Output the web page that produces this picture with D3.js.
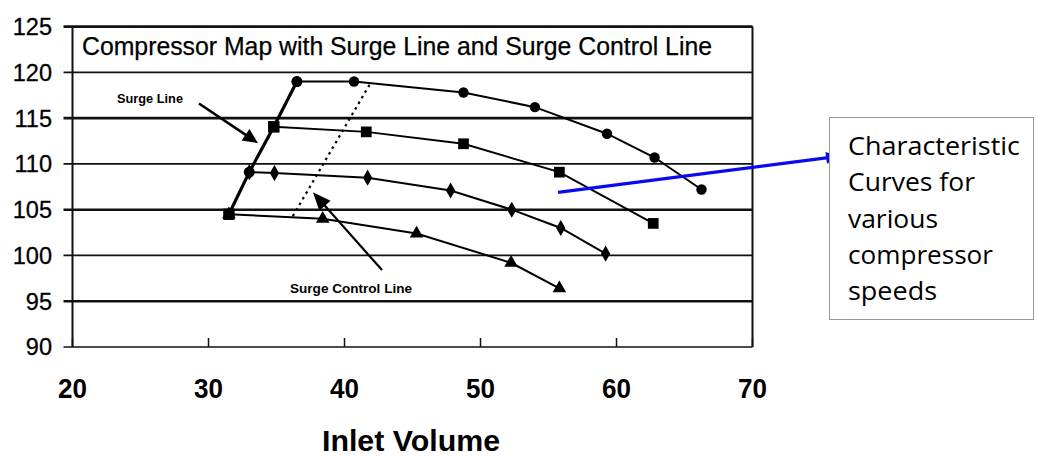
<!DOCTYPE html>
<html>
<head>
<meta charset="utf-8">
<script src="https://cdn.jsdelivr.net/npm/d3@7"></script>
<style>
  body { margin: 0; background: #fff; }
  svg { display: block; }
</style>
</head>
<body>
<svg id="chart"></svg>
<script>
// axis ticks
const xTicks = [20, 30, 40, 50, 60, 70];
const yTicks = [90, 95, 100, 105, 110, 115, 120, 125];

// characteristic curves, one per compressor speed (inlet volume, pressure)
const speed1X = [36.5, 40.7, 48.75, 54.0, 59.3, 62.8, 66.25];
const speed1Y = [119.0, 119.0, 117.8, 116.2, 113.3, 110.7, 107.2];
const speed2X = [34.8, 41.6, 48.75, 55.8, 62.7];
const speed2Y = [114.05, 113.5, 112.2, 109.1, 103.5];
const speed3X = [33.0, 34.85, 41.7, 47.8, 52.3, 55.9, 59.2];
const speed3Y = [109.1, 109.0, 108.5, 107.1, 105.0, 103.0, 100.2];
const speed4X = [31.5, 38.4, 45.3, 52.25, 55.8];
const speed4Y = [104.5, 104.0, 102.4, 99.2, 96.4];

// surge line joins the first point of every curve, control line sits to its right
const surgeX = [31.5, 33.0, 34.8, 36.5];
const surgeY = [104.5, 109.1, 114.05, 119.0];
const surgeControlX = [36.2, 41.9];
const surgeControlY = [104.3, 118.8];

// annotation arrows, in chart units: [from, to]
const surgeArrow = [[29.3, 116.6], [33.64, 112.27]];
const controlArrow = [[42.76, 98.4], [37.68, 106.9]];
const blueArrow = [[55.7, 106.9], [76.44, 110.85]];

const width = 1038;
const height = 457;
const svg = d3.select('#chart').attr('width', width).attr('height', height);

const x = d3.scaleLinear().domain([20, 70]).range([72.5, 752.5]);
const y = d3.scaleLinear().domain([90, 125]).range([347, 26.6]);

const zip = (xs, ys) => xs.map((v, i) => [v, ys[i]]);
const line = d3.line().x(d => x(d[0])).y(d => y(d[1]));

// horizontal grid lines (these also act as y ticks, sticking out left of the axis)
svg.append('g')
  .selectAll('line')
  .data(yTicks)
  .enter()
  .append('line')
  .attr('x1', x(20) - 9)
  .attr('x2', x(70))
  .attr('y1', d => y(d))
  .attr('y2', d => y(d))
  .attr('stroke', '#111')
  .attr('stroke-width', d => (d % 10 === 5 ? 2.6 : 1.7));

// y labels
svg.append('g')
  .selectAll('text')
  .data(yTicks)
  .enter()
  .append('text')
  .attr('x', 52)
  .attr('y', d => y(d) + 8.4)
  .attr('text-anchor', 'end')
  .attr('font-family', 'Liberation Sans, Arial, sans-serif')
  .attr('font-size', 23.5)
  .attr('stroke', '#000')
  .attr('stroke-width', 0.3)
  .text(d => d);

// frame
svg.append('line')
  .attr('x1', x(20)).attr('x2', x(20))
  .attr('y1', y(125)).attr('y2', y(90))
  .attr('stroke', '#111').attr('stroke-width', 2);
svg.append('line')
  .attr('x1', x(70)).attr('x2', x(70))
  .attr('y1', y(125)).attr('y2', y(90))
  .attr('stroke', '#111').attr('stroke-width', 2);

// x ticks point up into the plot
svg.append('g')
  .selectAll('line')
  .data(xTicks)
  .enter()
  .append('line')
  .attr('x1', d => x(d))
  .attr('x2', d => x(d))
  .attr('y1', y(90))
  .attr('y2', y(90) - 9)
  .attr('stroke', '#111')
  .attr('stroke-width', 1.5);

svg.append('g')
  .selectAll('text')
  .data(xTicks)
  .enter()
  .append('text')
  .attr('x', d => x(d))
  .attr('y', 398)
  .attr('text-anchor', 'middle')
  .attr('font-family', 'Liberation Sans, Arial, sans-serif')
  .attr('font-weight', 'bold')
  .attr('font-size', 28)
  .attr('textLength', 29)
  .attr('lengthAdjust', 'spacingAndGlyphs')
  .text(d => d);

svg.append('text')
  .attr('x', 411)
  .attr('y', 451)
  .attr('text-anchor', 'middle')
  .attr('font-family', 'Liberation Sans, Arial, sans-serif')
  .attr('font-weight', 'bold')
  .attr('font-size', 29)
  .attr('textLength', 178)
  .attr('lengthAdjust', 'spacingAndGlyphs')
  .text('Inlet Volume');

svg.append('text')
  .attr('x', 82)
  .attr('y', 55)
  .attr('font-family', 'Liberation Sans, Arial, sans-serif')
  .attr('font-size', 25)
  .attr('stroke', '#000')
  .attr('stroke-width', 0.25)
  .attr('textLength', 630)
  .attr('lengthAdjust', 'spacingAndGlyphs')
  .text('Compressor Map with Surge Line and Surge Control Line');

// the curves
const curves = [
  { pts: zip(speed1X, speed1Y), sym: d3.symbolCircle, size: 85 },
  { pts: zip(speed2X, speed2Y), sym: d3.symbolSquare, size: 115 },
  { pts: zip(speed3X, speed3Y), sym: d3.symbolDiamond, size: 75 },
  { pts: zip(speed4X, speed4Y), sym: d3.symbolTriangle, size: 80 },
];

curves.forEach(c => {
  svg.append('path')
    .attr('d', line(c.pts))
    .attr('fill', 'none')
    .attr('stroke', '#000')
    .attr('stroke-width', 2);
});

svg.append('path')
  .attr('d', line(zip(surgeX, surgeY)))
  .attr('fill', 'none')
  .attr('stroke', '#000')
  .attr('stroke-width', 3.2);

svg.append('path')
  .attr('d', line(zip(surgeControlX, surgeControlY)))
  .attr('fill', 'none')
  .attr('stroke', '#000')
  .attr('stroke-width', 2.2)
  .attr('stroke-dasharray', '2.5,4');

curves.forEach(c => {
  svg.append('g')
    .selectAll('path')
    .data(c.pts)
    .enter()
    .append('path')
    .attr('transform', d => `translate(${x(d[0])},${y(d[1])})`)
    .attr('d', d3.symbol().type(c.sym).size(c.size));
});

// surge line points alternate square / circle
const surgeSyms = [d3.symbolSquare, d3.symbolCircle, d3.symbolSquare, d3.symbolCircle];
svg.append('g')
  .selectAll('path')
  .data(zip(surgeX, surgeY))
  .enter()
  .append('path')
  .attr('transform', d => `translate(${x(d[0])},${y(d[1])})`)
  .attr('d', (d, i) => d3.symbol().type(surgeSyms[i]).size(i % 2 ? 95 : 130)());

// arrows with a filled head at the end
const arrow = (pts, color, w, headLen, headW) => {
  const x1 = x(pts[0][0]), y1 = y(pts[0][1]);
  const x2 = x(pts[1][0]), y2 = y(pts[1][1]);
  const len = Math.hypot(x2 - x1, y2 - y1);
  const ux = (x2 - x1) / len, uy = (y2 - y1) / len;
  const bx = x2 - ux * headLen, by = y2 - uy * headLen;
  svg.append('line')
    .attr('x1', x1).attr('y1', y1)
    .attr('x2', bx + ux * 2).attr('y2', by + uy * 2)
    .attr('stroke', color)
    .attr('stroke-width', w);
  svg.append('polygon')
    .attr('points', [
      [x2, y2],
      [bx - uy * headW, by + ux * headW],
      [bx + uy * headW, by - ux * headW],
    ].map(p => p.join(',')).join(' '))
    .attr('fill', color);
};

arrow(surgeArrow, '#000', 2.6, 15, 7);
arrow(controlArrow, '#000', 2.2, 18, 7.5);
arrow(blueArrow, '#0a0af0', 3.2, 14, 6);

svg.append('text')
  .attr('x', 117)
  .attr('y', 103)
  .attr('font-family', 'Liberation Sans, Arial, sans-serif')
  .attr('font-weight', 'bold')
  .attr('font-size', 13)
  .attr('textLength', 66)
  .attr('lengthAdjust', 'spacingAndGlyphs')
  .text('Surge Line');

svg.append('text')
  .attr('x', 290)
  .attr('y', 293)
  .attr('font-family', 'Liberation Sans, Arial, sans-serif')
  .attr('font-weight', 'bold')
  .attr('font-size', 13.5)
  .attr('textLength', 122)
  .attr('lengthAdjust', 'spacingAndGlyphs')
  .text('Surge Control Line');

// note box on the right
svg.append('rect')
  .attr('x', 829.5)
  .attr('y', 117.5)
  .attr('width', 204)
  .attr('height', 202)
  .attr('fill', '#fff')
  .attr('stroke', '#999')
  .attr('stroke-width', 1);

const noteLines = ['Characteristic', 'Curves for', 'various', 'compressor', 'speeds'];
const noteWidths = [172, 127, 90, 145, 89];
svg.append('g')
  .selectAll('text')
  .data(noteLines)
  .enter()
  .append('text')
  .attr('x', 848)
  .attr('y', (d, i) => 155 + i * 36.3)
  .attr('font-family', 'Open Sans, Noto Sans, sans-serif')
  .attr('font-size', 25)
  .attr('textLength', (d, i) => noteWidths[i])
  .attr('lengthAdjust', 'spacingAndGlyphs')
  .text(d => d);
</script>
</body>
</html>
